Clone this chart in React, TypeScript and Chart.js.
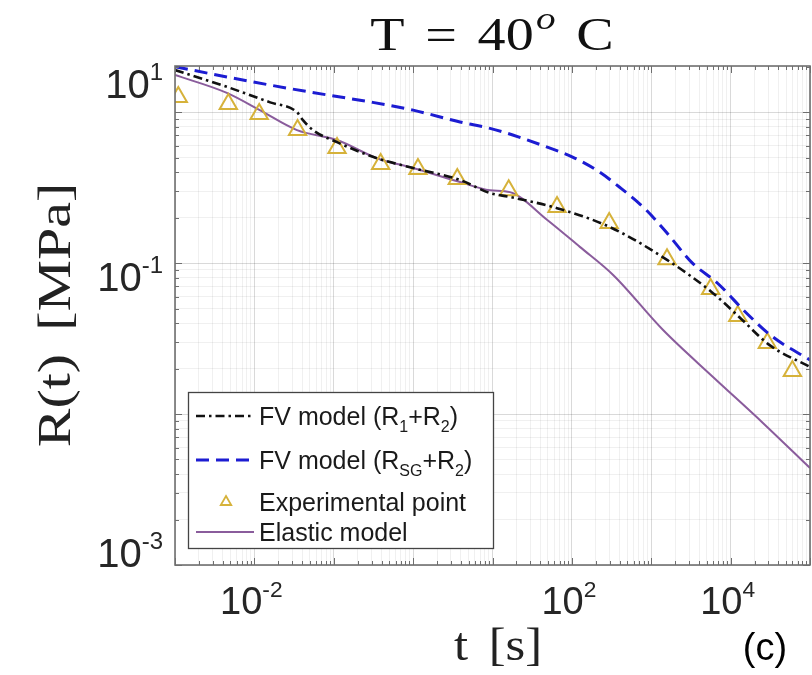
import React, { useEffect, useRef } from 'react';
import { Chart, registerables } from 'chart.js';

Chart.register(...registerables);

// ---------- data (t in s, R in MPa) ----------
const expT = [1.1e-3, 4.7e-3, 1.15e-2, 3.5e-2, 0.11, 0.39, 1.15, 3.6, 16, 65, 295, 1580, 5600, 12300, 29000, 60000];
const expR = [1.26, 1.13, 0.97, 0.76, 0.578, 0.453, 0.42, 0.36, 0.304, 0.235, 0.184, 0.106, 0.0673, 0.0446, 0.0295, 0.0193];

const fv12T = [1e-3, 4.5e-3, 1.58e-2, 3.44e-2, 4.09e-2, 5.47e-2, 0.11, 0.35, 1.0, 3.9, 9.3, 16.6, 65, 302, 1580, 6000, 13200, 31000, 1e5];
const fv12R = [1.9, 1.47, 1.16, 1.0, 0.885, 0.76, 0.632, 0.495, 0.426, 0.355, 0.291, 0.274, 0.231, 0.173, 0.105, 0.0632, 0.0433, 0.0286, 0.0205];

const fvSgT = [1e-3, 4.5e-3, 1.58e-2, 8.2e-2, 0.31, 1.0, 3.9, 9.3, 18, 49, 102, 204, 400, 870, 1580, 3300, 6800, 15800, 34000, 1e5];
const fvSgR = [2.0, 1.71, 1.51, 1.3, 1.16, 1.03, 0.86, 0.78, 0.705, 0.586, 0.504, 0.413, 0.318, 0.224, 0.158, 0.1, 0.0738, 0.0467, 0.0324, 0.0228];

const elT = [1e-3, 4.5e-3, 1.17e-2, 3.44e-2, 0.11, 0.35, 1.0, 3.9, 9.3, 16.6, 49, 126, 331, 1410, 6000, 25700, 1e5];
const elR = [1.76, 1.34, 1.03, 0.76, 0.653, 0.495, 0.426, 0.344, 0.304, 0.295, 0.193, 0.128, 0.0834, 0.036, 0.0176, 0.0087, 0.00439];

const xMin = 1e-3;
const xMax = 1e5;
const yMin = 1e-3;
const yMax = 2.02;

const xLabelValues = [1e-2, 1e2, 1e4];
const xLabelExps = ['-2', '2', '4'];
const yLabelValues = [10, 0.1, 1e-3];
const yLabelExps = ['1', '-1', '-3'];

const legendLabels = [
  [{ t: 'FV model (R' }, { t: '1', sub: true }, { t: '+R' }, { t: '2', sub: true }, { t: ')' }],
  [{ t: 'FV model (R' }, { t: 'SG', sub: true }, { t: '+R' }, { t: '2', sub: true }, { t: ')' }],
  [{ t: 'Experimental point' }],
  [{ t: 'Elastic model' }],
];

// ---------- styles ----------
const C_BLACK = '#111111';
const C_BLUE = '#1c1cd2';
const C_TRI = '#d6b23a';
const C_PURPLE = '#8a5c9c';
const DASH_DOT = [9, 4, 2.5, 4];
const DASH = [13, 7];
const SANS = '"Liberation Sans", Arial, sans-serif';
const SERIF = '"Liberation Serif", "Times New Roman", serif';

type Part = { t: string; sub?: boolean; sup?: boolean; italic?: boolean; gap?: number };

function drawParts(
  ctx: CanvasRenderingContext2D,
  parts: Part[],
  x: number,
  y: number,
  size: number,
  family: string,
  align: 'left' | 'center' | 'right',
  color: string,
  sx = 1,
  subRatio = 0.62,
) {
  const segs = parts.map((p) => {
    const s = p.sub || p.sup ? size * subRatio : size;
    const font = `${p.italic ? 'italic ' : ''}${s}px ${family}`;
    ctx.font = font;
    const w = ctx.measureText(p.t).width * sx;
    const dy = p.sup ? -size * 0.45 : p.sub ? size * 0.26 : 0;
    return { t: p.t, font, w, dy, gap: (p.gap || 0) * size };
  });
  const total = segs.reduce((a, s) => a + s.w + s.gap, 0);
  let cx = align === 'left' ? x : align === 'center' ? x - total / 2 : x - total;
  ctx.fillStyle = color;
  ctx.textBaseline = 'alphabetic';
  ctx.textAlign = 'left';
  for (const s of segs) {
    cx += s.gap;
    ctx.save();
    ctx.translate(cx, y + s.dy);
    ctx.scale(sx, 1);
    ctx.font = s.font;
    ctx.fillText(s.t, 0, 0);
    ctx.restore();
    cx += s.w;
  }
  return total;
}

const isMajor = (v: number) => Math.abs(Math.log10(v) - Math.round(Math.log10(v))) < 1e-6;

function logTicks(min: number, max: number) {
  const out: { value: number }[] = [];
  for (let e = Math.floor(Math.log10(min)); e <= Math.ceil(Math.log10(max)); e++) {
    for (let m = 1; m < 10; m++) {
      const v = m * Math.pow(10, e);
      if (v >= min * 0.999 && v <= max * 1.001) out.push({ value: v });
    }
  }
  return out;
}

const decorPlugin = {
  id: 'decor',
  afterDraw(chart: any) {
    const ctx: CanvasRenderingContext2D = chart.ctx;
    const a = chart.chartArea;
    const xs = chart.scales.x;
    const ys = chart.scales.y;
    ctx.save();

    // inward tick marks on all four sides
    ctx.strokeStyle = '#6e6e6e';
    ctx.lineWidth = 1;
    xs.ticks.forEach((t: any) => {
      const px = Math.round(xs.getPixelForValue(t.value)) + 0.5;
      const len = isMajor(t.value) ? 7 : 4;
      ctx.beginPath();
      ctx.moveTo(px, a.bottom);
      ctx.lineTo(px, a.bottom - len);
      ctx.moveTo(px, a.top);
      ctx.lineTo(px, a.top + len);
      ctx.stroke();
    });
    ys.ticks.forEach((t: any) => {
      const py = Math.round(ys.getPixelForValue(t.value)) + 0.5;
      const len = isMajor(t.value) ? 7 : 4;
      ctx.beginPath();
      ctx.moveTo(a.left, py);
      ctx.lineTo(a.left + len, py);
      ctx.moveTo(a.right, py);
      ctx.lineTo(a.right - len, py);
      ctx.stroke();
    });

    // axes box
    ctx.strokeStyle = '#707070';
    ctx.lineWidth = 1.6;
    ctx.strokeRect(a.left, a.top, a.right - a.left, a.bottom - a.top);

    // x tick labels
    xLabelValues.forEach((v, i) => {
      const px = xs.getPixelForValue(v);
      drawParts(ctx, [{ t: '10' }, { t: xLabelExps[i], sup: true }], px - 3, a.bottom + 49, 38, SANS, 'center', '#262626', 1, 0.6);
    });

    // y tick labels
    yLabelValues.forEach((v, i) => {
      let cy = ys.getPixelForValue(v) + 14;
      cy = Math.max(a.top + 18, Math.min(a.bottom - 12, cy));
      drawParts(ctx, [{ t: '10' }, { t: yLabelExps[i], sup: true }], a.left - 12, cy + 14, 40, SANS, 'right', '#262626', 1, 0.6);
    });

    // title
    drawParts(
      ctx,
      [{ t: 'T' }, { t: '=', gap: 0.45 }, { t: '40', gap: 0.45 }, { t: 'o', sup: true, italic: true, gap: 0.05 }, { t: 'C', gap: 0.45 }],
      492,
      50,
      46,
      SERIF,
      'center',
      '#111',
      1.22,
      0.7,
    );

    // x axis title
    drawParts(ctx, [{ t: 't' }, { t: '[s]', gap: 0.45 }], 498, 660, 46, SERIF, 'center', '#222', 1.1);

    // y axis title
    ctx.save();
    ctx.translate(70, 315);
    ctx.rotate(-Math.PI / 2);
    drawParts(ctx, [{ t: 'R(t)' }, { t: '[MPa]', gap: 0.5 }], 0, 0, 46, SERIF, 'center', '#222', 1.26);
    ctx.restore();

    // panel letter
    drawParts(ctx, [{ t: '(c)' }], 765, 660, 38, SANS, 'center', '#000');

    // legend
    const lx = a.left + 13;
    const ly = a.top + 326;
    const lw = 305;
    const lh = 156;
    ctx.fillStyle = '#ffffff';
    ctx.fillRect(lx, ly, lw, lh);
    ctx.strokeStyle = '#444';
    ctx.lineWidth = 1.3;
    ctx.strokeRect(lx + 0.5, ly + 0.5, lw, lh);
    const rows = [24, 68, 110, 140];
    const ds = chart.data.datasets;
    rows.forEach((ry, i) => {
      const y = ly + ry;
      const d = ds[i];
      if (d.showLine === false) {
        ctx.save();
        ctx.strokeStyle = d.borderColor;
        ctx.lineWidth = 1.8;
        const cx = lx + 38;
        const r = 6;
        ctx.beginPath();
        ctx.moveTo(cx, y - r);
        ctx.lineTo(cx + r * 0.87, y + r * 0.5);
        ctx.lineTo(cx - r * 0.87, y + r * 0.5);
        ctx.closePath();
        ctx.stroke();
        ctx.restore();
      } else {
        ctx.save();
        ctx.strokeStyle = d.borderColor;
        ctx.lineWidth = d.borderWidth;
        ctx.setLineDash(d.borderDash || []);
        ctx.beginPath();
        ctx.moveTo(lx + 8, y);
        ctx.lineTo(lx + 66, y);
        ctx.stroke();
        ctx.restore();
      }
      drawParts(ctx, legendLabels[i], lx + 71, y + 9, 25, SANS, 'left', '#1a1a1a', 1, 0.64);
    });

    ctx.restore();
  },
};

const toPts = (xs: number[], ys: number[]) => xs.map((x, i) => ({ x, y: ys[i] }));

export default function App() {
  const ref = useRef<HTMLCanvasElement | null>(null);

  useEffect(() => {
    if (!ref.current) return;
    const gridColor = (c: any) =>
      c.tick && isMajor(c.tick.value) ? 'rgba(0,0,0,0.15)' : 'rgba(0,0,0,0.06)';
    const chart = new Chart(ref.current, {
      type: 'scatter',
      data: {
        datasets: [
          {
            label: 'FV model (R1+R2)',
            data: toPts(fv12T, fv12R),
            showLine: true,
            borderColor: C_BLACK,
            borderWidth: 2.6,
            borderDash: DASH_DOT,
            pointRadius: 0,
            cubicInterpolationMode: 'monotone',
          },
          {
            label: 'FV model (RSG+R2)',
            data: toPts(fvSgT, fvSgR),
            showLine: true,
            borderColor: C_BLUE,
            borderWidth: 3,
            borderDash: DASH,
            pointRadius: 0,
            cubicInterpolationMode: 'monotone',
          },
          {
            label: 'Experimental point',
            data: toPts(expT, expR),
            showLine: false,
            borderColor: C_TRI,
            backgroundColor: 'rgba(0,0,0,0)',
            borderWidth: 2,
            pointStyle: 'triangle',
            pointRadius: 10,
          },
          {
            label: 'Elastic model',
            data: toPts(elT, elR),
            showLine: true,
            borderColor: C_PURPLE,
            borderWidth: 2,
            pointRadius: 0,
            cubicInterpolationMode: 'monotone',
          },
        ],
      } as any,
      options: {
        responsive: false,
        animation: false,
        devicePixelRatio: 1,
        layout: { autoPadding: false, padding: { top: 66, right: 2, left: 0, bottom: 0 } },
        plugins: { legend: { display: false }, tooltip: { enabled: false }, title: { display: false } },
        scales: {
          x: {
            type: 'logarithmic',
            min: xMin,
            max: xMax,
            afterBuildTicks: (s: any) => {
              s.ticks = logTicks(xMin, xMax);
            },
            afterFit: (s: any) => {
              s.height = 110;
            },
            ticks: { display: false },
            grid: { color: gridColor, drawTicks: false, lineWidth: 1 },
            border: { display: false },
          },
          y: {
            type: 'logarithmic',
            min: yMin,
            max: yMax,
            afterBuildTicks: (s: any) => {
              s.ticks = logTicks(yMin, yMax);
            },
            afterFit: (s: any) => {
              s.width = 175;
            },
            ticks: { display: false },
            grid: { color: gridColor, drawTicks: false, lineWidth: 1 },
            border: { display: false },
          },
        },
      } as any,
      plugins: [decorPlugin],
    });
    return () => chart.destroy();
  }, []);

  return (
    <div style={{ position: 'fixed', left: 0, top: 0, width: 812, height: 675, background: '#fff' }}>
      <canvas ref={ref} width={812} height={675} style={{ display: 'block' }} />
    </div>
  );
}
